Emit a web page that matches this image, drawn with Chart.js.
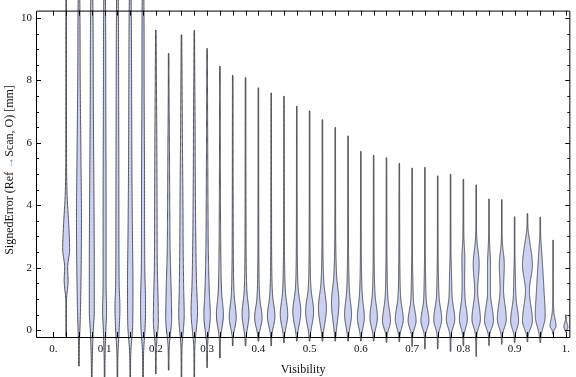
<!DOCTYPE html>
<html><head><meta charset="utf-8">
<script src="https://cdn.jsdelivr.net/npm/chart.js@4/dist/chart.umd.min.js"></script>
<style>html,body{margin:0;padding:0;background:#fff}canvas{display:block}</style>
</head><body>
<canvas id="c" width="576" height="377"></canvas>
<script>
// ---- data ----
const categories = [0.025,0.05,0.075,0.1,0.125,0.15,0.175,0.2,0.225,0.25,0.275,0.3,0.325,0.35,0.375,0.4,0.425,0.45,0.475,0.5,0.525,0.55,0.575,0.6,0.625,0.65,0.675,0.7,0.725,0.75,0.775,0.8,0.825,0.85,0.875,0.9,0.925,0.95,0.975,1.0];
const minValues = [-0.2,-1.15,-1.7,-1.7,-1.7,-1.7,-1.7,-1.4,-1.28,-1.7,-1.7,-1.2,-0.89,-0.5,-0.5,-0.35,-0.5,-0.4,-0.35,-0.35,-0.35,-0.35,-0.35,-0.35,-0.35,-0.39,-0.37,-0.52,-0.6,-0.6,-0.68,-0.5,-0.84,-0.49,-0.45,-0.4,-0.37,-0.4,-0.13,-0.05];
const maxValues = [12,12,12,12,12,12,12,9.61,8.86,9.46,9.6,9.02,8.45,8.16,8.09,7.76,7.59,7.49,7.17,7.02,6.74,6.49,6.22,5.72,5.6,5.52,5.34,5.19,5.21,4.94,4.99,4.83,4.65,4.2,4.18,3.63,3.73,3.62,2.88,0.49];
// relative density knots [value, density] for each violin
const densityKnots = [
 [[0.9,0.06],[1.6,0.4],[2.0,0.3],[2.6,0.7],[3.3,0.55],[4.3,0.2],[5.5,0.08]],
 [[-0.5,0.08],[0.3,0.25],[1.5,0.4],[3.5,0.5],[5.5,0.4],[8,0.25],[10,0.2]],
 [[-1.0,0.1],[0,0.3],[0.6,0.5],[2,0.5],[4,0.45],[7,0.32],[10,0.25]],
 [[-1.0,0.08],[0,0.25],[0.6,0.4],[1.5,0.3],[4,0.3],[7,0.25],[10,0.2]],
 [[-0.8,0.1],[0,0.35],[0.7,0.5],[1.5,0.35],[4,0.3],[7,0.26],[10,0.2]],
 [[-0.8,0.1],[0.2,0.5],[1.5,0.55],[3,0.45],[5,0.35],[8,0.28],[10,0.22]],
 [[-0.8,0.1],[0.2,0.45],[0.9,0.5],[2,0.35],[5,0.3],[8,0.22],[10,0.2]],
 [[-0.6,0.1],[0.3,0.5],[1.0,0.45],[2,0.3],[4,0.25],[6,0.2],[8,0.12]],
 [[-0.6,0.1],[0.4,0.6],[1.3,0.5],[2.5,0.3],[4,0.22],[6,0.15],[7.5,0.08]],
 [[-0.6,0.1],[0.5,0.55],[1.3,0.45],[2.5,0.35],[4,0.3],[6,0.2],[8,0.12]],
 [[-0.6,0.1],[0.6,0.65],[1.5,0.45],[3,0.3],[5,0.2],[7,0.15],[8.5,0.08]],
 [[-0.5,0.1],[0.5,0.65],[1.2,0.45],[2.5,0.25],[4,0.18],[6,0.12],[8,0.08]],
 [[-0.3,0.12],[0.5,0.7],[1.2,0.35],[2.2,0.2],[4,0.12],[6,0.08]],
 [[-0.2,0.12],[0.4,0.7],[1.1,0.3],[2,0.15],[3.5,0.1]],
 [[-0.2,0.15],[0.5,0.7],[1.2,0.3],[2,0.15],[3.5,0.1]],
 [[-0.15,0.15],[0.4,0.75],[1.0,0.3],[2,0.12],[3.5,0.08]],
 [[-0.15,0.15],[0.45,0.75],[1.1,0.3],[2,0.12],[3.5,0.08]],
 [[-0.15,0.15],[0.5,0.75],[1.2,0.3],[2.2,0.12],[3.5,0.08]],
 [[-0.15,0.15],[0.6,0.8],[1.3,0.3],[2.2,0.12],[3.5,0.08]],
 [[-0.15,0.15],[0.6,0.8],[1.3,0.3],[2.2,0.12],[3.5,0.08]],
 [[-0.15,0.15],[0.7,0.8],[1.5,0.3],[2.4,0.12],[3.5,0.08]],
 [[-0.15,0.15],[0.9,0.75],[1.7,0.3],[2.6,0.12],[3.5,0.08]],
 [[-0.15,0.15],[0.5,0.7],[1.2,0.3],[2.2,0.12],[3.5,0.08]],
 [[-0.15,0.15],[0.4,0.7],[1.1,0.3],[2,0.12],[3.2,0.08]],
 [[-0.15,0.15],[0.4,0.75],[1.1,0.3],[2,0.12],[3.2,0.08]],
 [[-0.15,0.15],[0.3,0.8],[1.0,0.3],[2,0.12],[3.2,0.08]],
 [[-0.15,0.15],[0.35,0.8],[1.0,0.3],[2,0.12],[3.2,0.08]],
 [[-0.15,0.15],[0.3,0.8],[0.9,0.3],[1.6,0.15],[2.5,0.08]],
 [[-0.15,0.15],[0.3,0.8],[0.9,0.3],[1.6,0.15],[2.5,0.08]],
 [[-0.15,0.15],[0.35,0.8],[1.0,0.3],[1.7,0.15],[2.5,0.08]],
 [[-0.15,0.15],[0.35,0.85],[1.0,0.35],[1.8,0.2],[2.6,0.08]],
 [[-0.15,0.15],[0.35,0.8],[1.0,0.35],[1.6,0.25],[2.3,0.3],[3,0.1]],
 [[-0.15,0.15],[0.35,0.85],[1.26,0.3],[2.1,0.6],[2.9,0.15],[3.5,0.06]],
 [[-0.15,0.15],[0.3,0.9],[1.2,0.3],[2.1,0.3],[2.8,0.12],[3.4,0.06]],
 [[-0.15,0.15],[0.35,0.9],[1.3,0.35],[2.1,0.5],[2.8,0.12],[3.4,0.06]],
 [[-0.15,0.15],[0.3,0.8],[1.0,0.3],[1.8,0.15],[2.6,0.06]],
 [[-0.15,0.2],[0.3,1.0],[1.26,0.4],[2.1,1.0],[2.8,0.5],[3.25,0.12]],
 [[-0.15,0.2],[0.45,1.0],[1.3,0.75],[2.5,0.3],[3.0,0.1]],
 [[0.0,0.2],[0.12,0.6],[0.6,0.15],[1.5,0.06]],
 [[0.03,0.25],[0.1,0.4],[0.3,0.12]]
];
const xTickValues = [0,0.1,0.2,0.3,0.4,0.5,0.6,0.7,0.8,0.9,1.0];
const xTickLabels = ["0.","0.1","0.2","0.3","0.4","0.5","0.6","0.7","0.8","0.9","1."];
const yTickValues = [0,2,4,6,8,10];
const yTickLabels = ["0","2","4","6","8","10"];
const yMinorStep = 0.5;
const xMinorStep = 0.025;
const xTitle = "Visibility";
const yTitleParts = ["SignedError (Ref ", "\u2192", "Scan, O) [mm]"];

// ---- styling ----
const FONT = "'Liberation Serif','Times New Roman',serif";
const TXT = '#111';
const FILL = '#cad1f3';
const EDGE = 'rgba(45,45,50,0.8)';
const TAIL = 0.06;      // density used for tails
const MAXW = 0.0097;    // half width (x units) for density 1

function monotone(xs, ys){
  const n = xs.length, d = [], m = new Array(n);
  for (let i=0;i<n-1;i++) d[i] = (ys[i+1]-ys[i])/(xs[i+1]-xs[i]);
  m[0]=d[0]; m[n-1]=d[n-2];
  for (let i=1;i<n-1;i++) m[i] = (d[i-1]*d[i] <= 0) ? 0 : (d[i-1]+d[i])/2;
  for (let i=0;i<n-1;i++){
    if (d[i]===0){ m[i]=0; m[i+1]=0; continue; }
    const a=m[i]/d[i], b=m[i+1]/d[i], s=a*a+b*b;
    if (s>9){ const t=3/Math.sqrt(s); m[i]=t*a*d[i]; m[i+1]=t*b*d[i]; }
  }
  return function(x){
    let i=0; while (i<n-2 && x>xs[i+1]) i++;
    const h=xs[i+1]-xs[i], t=Math.min(1,Math.max(0,(x-xs[i])/h));
    const t2=t*t, t3=t2*t;
    return (2*t3-3*t2+1)*ys[i] + (t3-2*t2+t)*h*m[i] + (-2*t3+3*t2)*ys[i+1] + (t3-t2)*h*m[i+1];
  };
}

const violinPlugin = {
  id: 'violins',
  afterDraw(chart){
    const ctx = chart.ctx, xs = chart.scales.x, ys = chart.scales.y, a = chart.chartArea;
    ctx.save();
    // violins
    categories.forEach((c, i) => {
      const knots = [[minValues[i], TAIL]].concat(densityKnots[i]).concat([[maxValues[i], TAIL]]);
      const f = monotone(knots.map(k=>k[0]), knots.map(k=>k[1]));
      const lo = minValues[i], hi = maxValues[i];
      const N = 300;
      const right = [], left = [];
      for (let j=0;j<=N;j++){
        const v = lo + (hi-lo)*j/N;
        const dd = Math.max(TAIL, f(v));
        const py = ys.getPixelForValue(v);
        right.push([xs.getPixelForValue(c + dd*MAXW), py]);
        left.push([xs.getPixelForValue(c - dd*MAXW), py]);
      }
      ctx.beginPath();
      right.forEach((p,j)=> j? ctx.lineTo(p[0],p[1]) : ctx.moveTo(p[0],p[1]));
      for (let j=left.length-1;j>=0;j--) ctx.lineTo(left[j][0], left[j][1]);
      ctx.closePath();
      ctx.fillStyle = FILL; ctx.fill();
      ctx.lineWidth = 1; ctx.strokeStyle = EDGE; ctx.lineJoin='round'; ctx.stroke();
    });
    // frame
    ctx.strokeStyle = '#000'; ctx.lineWidth = 1;
    ctx.strokeRect(a.left+0.5, a.top+0.5, a.right-a.left-1, a.bottom-a.top);
    ctx.beginPath();
    const yMin = ys.min, yMax = ys.max;
    for (let v = Math.ceil(yMin/yMinorStep)*yMinorStep; v <= yMax+1e-9; v += yMinorStep){
      const major = yTickValues.some(t=>Math.abs(t-v)<1e-9);
      const py = Math.round(ys.getPixelForValue(v))+0.5;
      const L = major ? 5 : 3;
      ctx.moveTo(a.left, py); ctx.lineTo(a.left+L, py);
      ctx.moveTo(a.right, py); ctx.lineTo(a.right-L, py);
    }
    for (let v = 0; v <= 1+1e-9; v += xMinorStep){
      const px = Math.round(xs.getPixelForValue(v))+0.5;
      ctx.moveTo(px, a.top); ctx.lineTo(px, a.top+5);
      ctx.moveTo(px, a.bottom); ctx.lineTo(px, a.bottom-5);
    }
    ctx.stroke();
    // y title
    ctx.font = "12px " + FONT;
    const widths = yTitleParts.map(s=>ctx.measureText(s).width);
    const total = widths.reduce((p,q)=>p+q,0);
    ctx.translate(13, 170);
    ctx.rotate(-Math.PI/2);
    ctx.textBaseline = 'alphabetic'; ctx.textAlign = 'left';
    let x0 = -total/2;
    yTitleParts.forEach((s,k)=>{
      ctx.fillStyle = k===1 ? '#4a9bd6' : TXT;
      ctx.fillText(s, x0, 0); x0 += widths[k];
    });
    ctx.restore();
  }
};

new Chart(document.getElementById('c'), {
  type: 'scatter',
  data: { datasets: [{ data: categories.map(c=>({x:c, y:0})), pointRadius: 0, showLine: false }] },
  options: {
    responsive: false, animation: false, devicePixelRatio: 1,
    layout: { padding: { top: 4, right: 1, left: 0, bottom: 0 } },
    plugins: { legend: { display: false }, tooltip: { enabled: false } },
    scales: {
      x: {
        type: 'linear', min: -0.03385, max: 1.0087,
        grid: { display: false, drawTicks: false }, border: { display: false },
        afterBuildTicks: s => { s.ticks = xTickValues.map(v=>({value:v})); },
        afterFit: s => { s.height = 40; },
        ticks: { autoSkip: false, maxRotation: 0, padding: 6, color: TXT, font: { family: FONT, size: 11 },
                 callback: (v, i) => xTickLabels[i] },
        title: { display: true, text: xTitle, color: TXT, font: { family: FONT, size: 12 }, padding: { top: 0, bottom: 0 } }
      },
      y: {
        type: 'linear', min: -0.22, max: 10.235,
        grid: { display: false, drawTicks: false }, border: { display: false },
        afterBuildTicks: s => { s.ticks = yTickValues.map(v=>({value:v})); },
        afterFit: s => { s.width = 36; },
        ticks: { padding: 4, color: TXT, font: { family: FONT, size: 11 },
                 callback: (v, i) => yTickLabels[i] }
      }
    }
  },
  plugins: [violinPlugin]
});
</script>
</body></html>
